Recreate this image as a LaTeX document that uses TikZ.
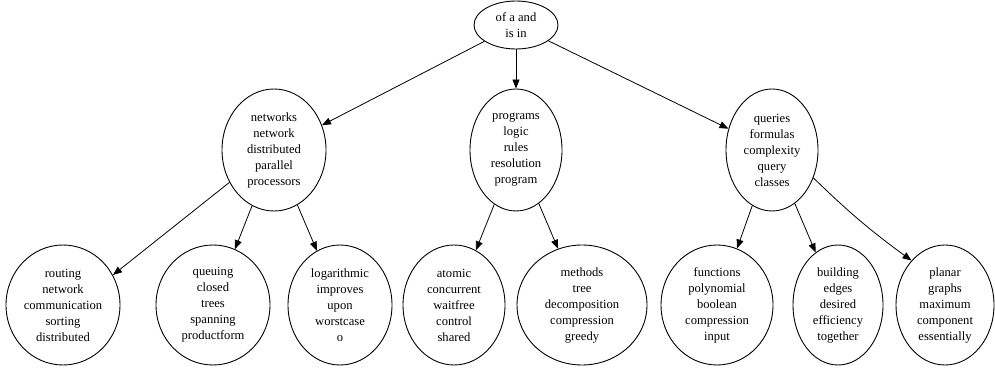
\documentclass[tikz,border=0pt]{standalone}
\usepackage{fontspec}
\setmainfont{Liberation Serif}
\usetikzlibrary{shapes.geometric,arrows.meta}
\begin{document}
\begin{tikzpicture}[x=1pt,y=-1pt,
  topic/.style={ellipse,draw,line width=0.9pt,inner sep=0pt,align=center,
    font=\fontsize{12.6}{16}\selectfont},
  link/.style={draw,line width=0.8pt,-{Triangle[length=9pt,width=7pt]}}]
\useasboundingbox (0,0) rectangle (995,371);
\node[topic,minimum width=84pt,minimum height=48pt] (root) at (516,25) {of a and\\is in};
\node[topic,minimum width=104pt,minimum height=122pt] (net) at (274,150) {networks\\network\\distributed\\parallel\\processors};
\node[topic,minimum width=92pt,minimum height=122pt] (prog) at (516,150) {programs\\logic\\rules\\resolution\\program};
\node[topic,minimum width=92pt,minimum height=122pt] (quer) at (772,150) {queries\\formulas\\complexity\\query\\classes};
\node[topic,minimum width=114pt,minimum height=120pt] (rout) at (63,305) {routing\\network\\communication\\sorting\\distributed};
\node[topic,minimum width=114pt,minimum height=120pt] (queu) at (213,305) {queuing\\closed\\trees\\spanning\\productform};
\node[topic,minimum width=104pt,minimum height=120pt] (loga) at (340,305) {logarithmic\\improves\\upon\\worstcase\\o};
\node[topic,minimum width=102pt,minimum height=120pt] (atom) at (454,305) {atomic\\concurrent\\waitfree\\control\\shared};
\node[topic,minimum width=130pt,minimum height=120pt] (meth) at (582,305) {methods\\tree\\decomposition\\compression\\greedy};
\node[topic,minimum width=112pt,minimum height=120pt] (func) at (717,305) {functions\\polynomial\\boolean\\compression\\input};
\node[topic,minimum width=90pt,minimum height=120pt] (buil) at (838,305) {building\\edges\\desired\\efficiency\\together};
\node[topic,minimum width=98pt,minimum height=120pt] (plan) at (945,305) {planar\\graphs\\maximum\\component\\essentially};
\draw[link] (root) -- (net);
\draw[link] (root) -- (prog);
\draw[link] (root) -- (quer);
\draw[link] (net.216) -- (rout.31);
\draw[link] (net) -- (queu);
\draw[link] (net) -- (loga);
\draw[link] (prog) -- (atom);
\draw[link] (prog) -- (meth);
\draw[link] (quer) -- (func);
\draw[link] (quer) -- (buil);
\draw[link] (quer.-34) to[bend right=4] (plan.127);
\end{tikzpicture}
\end{document}
